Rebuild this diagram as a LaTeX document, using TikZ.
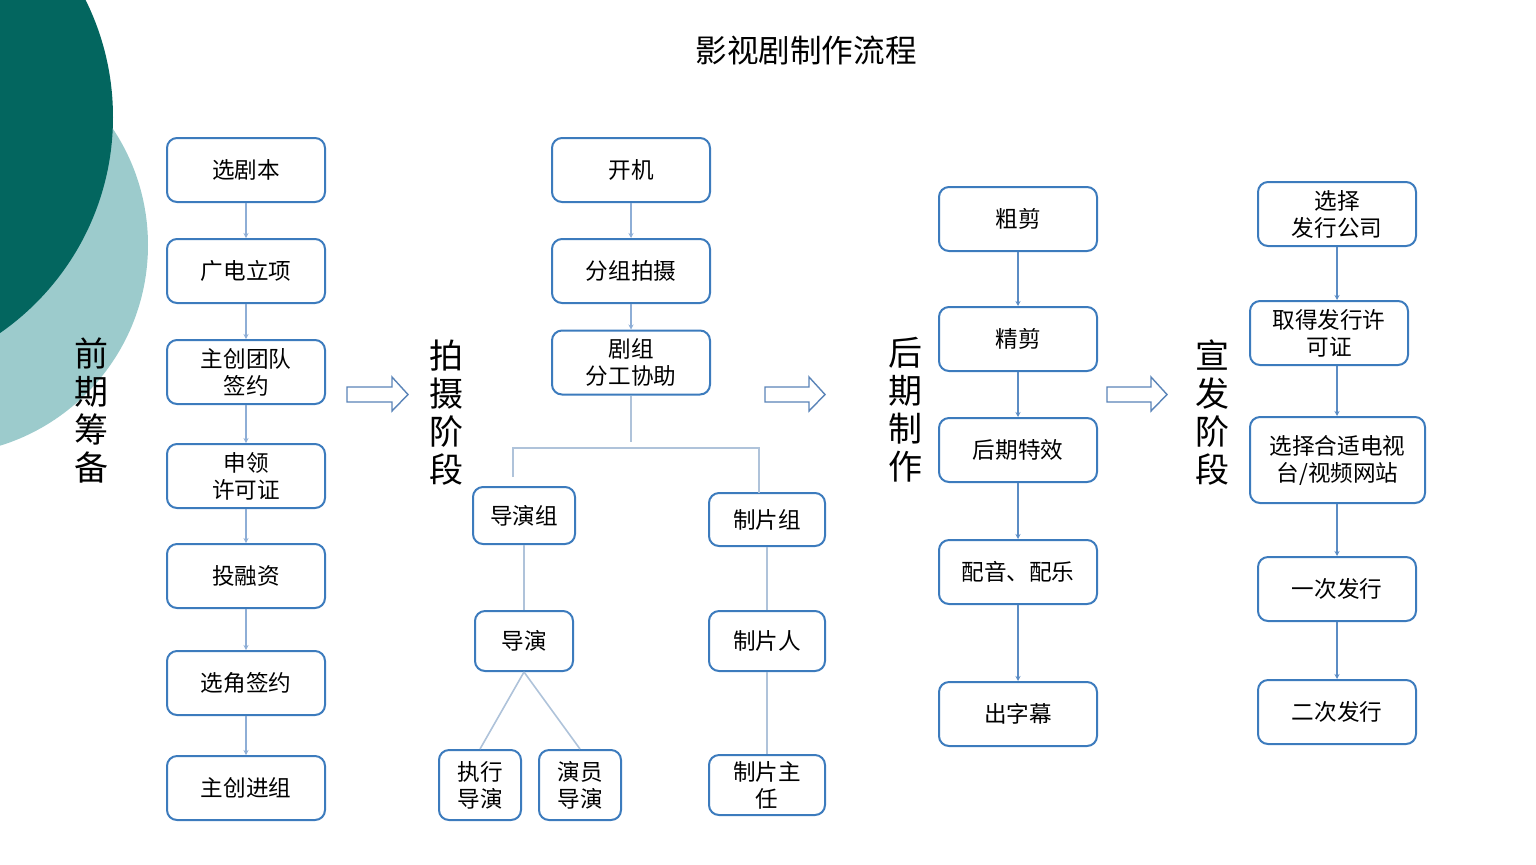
\documentclass[tikz,border=0pt]{standalone}
\usepackage{fontspec}
\newfontfamily\cjk{Noto Sans CJK SC}
\usetikzlibrary{arrows.meta}
\definecolor{darkteal}{HTML}{03665F}
\definecolor{lightteal}{HTML}{9CCBCC}
\definecolor{boxc}{HTML}{3C7BBD}
\definecolor{linea}{HTML}{8EAED6}
\definecolor{lineb}{HTML}{AFC3DA}
\definecolor{linec}{HTML}{5B8CC4}
\definecolor{arrc}{HTML}{5A84B8}
\begin{document}
\begin{tikzpicture}[x=0.5pt,y=-0.5pt,
  box/.style={draw=boxc, line width=1pt, rounded corners=5pt, fill=white, inner sep=0pt,
    minimum width=79pt, minimum height=32pt, align=center,
    font=\cjk\fontsize{11.3}{13.5}\selectfont},
  stagelabel/.style={align=center, inner sep=0pt, font=\cjk\fontsize{17}{19}\selectfont},
  conn/.style={draw=linea, line width=0.8pt, -{Stealth[length=2.5pt,width=2.5pt]}},
  connb/.style={draw=linec, line width=0.7pt, -{Stealth[length=2.5pt,width=2.5pt]}},
  tree/.style={draw=lineb, line width=0.8pt},
  blockarrow/.style={draw=arrc, line width=0.7pt, fill=white, line join=miter}
]
\useasboundingbox (0,0) rectangle (1536,864);
\begin{scope}
  \clip (0,0) rectangle (1536,864);
  \fill[lightteal] (-62,245) circle[radius=105pt];
  \fill[darkteal] (-150,117) circle[radius=131.5pt];
\end{scope}

% title
\node[font=\cjk\fontsize{15.8}{18}\selectfont, inner sep=0pt] (title) at (806,50) {影视剧制作流程};

% stage labels
\node[stagelabel] (s1) at (91,410) {前\\期\\筹\\备};
\node[stagelabel] (s2) at (446,413) {拍\\摄\\阶\\段};
\node[stagelabel] (s3) at (905,410) {后\\期\\制\\作};
\node[stagelabel] (s4) at (1212,413) {宣\\发\\阶\\段};

% column 1
\node[box] (a1) at (246,170) {选剧本};
\node[box] (a2) at (246,271) {广电立项};
\node[box] (a3) at (246,372) {主创团队\\签约};
\node[box] (a4) at (246,476) {申领\\许可证};
\node[box] (a5) at (246,576) {投融资};
\node[box] (a6) at (246,683) {选角签约};
\node[box] (a7) at (246,788) {主创进组};
\draw[conn] (a1) -- (a2);
\draw[conn] (a2) -- (a3);
\draw[conn] (a3) -- (a4);
\draw[conn] (a4) -- (a5);
\draw[conn] (a5) -- (a6);
\draw[conn] (a6) -- (a7);

% block arrows
\draw[blockarrow] (347,387) -- (392,387) -- (392,377) -- (408,394.5) -- (392,411) -- (392,402) -- (347,402) -- cycle;
\draw[blockarrow] (765,387) -- (809,387) -- (809,377) -- (825,394.5) -- (809,411) -- (809,402) -- (765,402) -- cycle;
\draw[blockarrow] (1107,387) -- (1151,387) -- (1151,377) -- (1167,394.5) -- (1151,411) -- (1151,402) -- (1107,402) -- cycle;

% column 2
\node[box] (b1) at (631,170) {开机};
\node[box] (b2) at (631,271) {分组拍摄};
\node[box] (b3) at (631,362.5) {剧组\\分工协助};
\node[box, minimum width=51pt, minimum height=28.5pt] (d1) at (524,515.5) {导演组};
\node[box, minimum width=58pt, minimum height=26.5pt] (p1) at (767,519.5) {制片组};
\node[box, minimum width=49pt, minimum height=30pt] (d2) at (524,641) {导演};
\node[box, minimum width=58pt, minimum height=30pt] (p2) at (767,641) {制片人};
\node[box, minimum width=41pt, minimum height=35pt] (d3) at (480,785) {执行\\导演};
\node[box, minimum width=41pt, minimum height=35pt] (d4) at (580,785) {演员\\导演};
\node[box, minimum width=58pt, minimum height=30pt] (p3) at (767,785) {制片主\\任};
\draw[conn] (b1) -- (b2);
\draw[conn] (b2) -- (b3);
\coordinate (hL) at (513,448);
\coordinate (hR) at (759,448);
\coordinate (hM) at (631,442);
\coordinate (dL) at (513,477);
\coordinate (dR) at (759,493);
\draw[tree] (b3.south) -- (hM);
\draw[tree] (dL) -- (hL) -- (hR) -- (dR);
\draw[tree] (d1) -- (d2);
\draw[tree] (d2.south) -- (d3.north);
\draw[tree] (d2.south) -- (d4.north);
\draw[tree] (p1) -- (p2);
\draw[tree] (p2) -- (p3);

% column 3
\node[box] (c1) at (1018,219) {粗剪};
\node[box] (c2) at (1018,339) {精剪};
\node[box] (c3) at (1018,450) {后期特效};
\node[box] (c4) at (1018,572) {配音、配乐};
\node[box] (c5) at (1018,714) {出字幕};
\draw[connb] (c1) -- (c2);
\draw[connb] (c2) -- (c3);
\draw[connb] (c3) -- (c4);
\draw[connb] (c4) -- (c5);

% column 4
\node[box] (e1) at (1337,214) {选择\\发行公司};
\node[box] (e2) at (1329,333) {取得发行许\\可证};
\node[box, minimum width=87.5pt, minimum height=43pt] (e3) at (1337.5,460) {选择合适电视\\台/视频网站};
\node[box] (e4) at (1337,589) {一次发行};
\node[box] (e5) at (1337,712) {二次发行};
\draw[connb] (e1.south) -- (e2.north -| e1.south);
\draw[connb] (e2.south -| e1.south) -- (e3.north -| e1.south);
\draw[connb] (e3.south -| e1.south) -- (e4.north);
\draw[connb] (e4) -- (e5);
\end{tikzpicture}
\end{document}
